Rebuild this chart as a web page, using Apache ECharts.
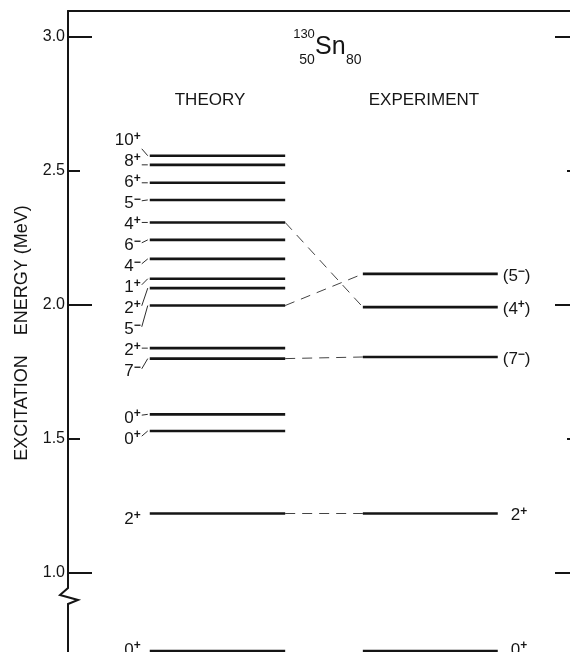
<!DOCTYPE html>
<html>
<head>
<meta charset="utf-8">
<script src="https://cdn.jsdelivr.net/npm/echarts@6/dist/echarts.min.js"></script>
<style>
  html, body { margin: 0; padding: 0; background: #fff; }
  #chart { width: 570px; height: 652px; }
</style>
</head>
<body>
<div id="chart"></div>
<script>
// 130Sn levels (MeV)
const theoryEnergy = [2.557, 2.523, 2.456, 2.392, 2.308, 2.243, 2.172, 2.098, 2.063, 1.998, 1.839, 1.800, 1.592, 1.530, 1.222, 0];
const theorySpin   = ['10', '8', '6', '5', '4', '6', '4', '1', '2', '5', '2', '7', '0', '0', '2', '0'];
const theoryParity = ['+', '+', '+', '-', '+', '-', '-', '+', '+', '-', '+', '-', '+', '+', '+', '+'];

const exptEnergy    = [2.116, 1.992, 1.806, 1.222, 0];
const exptSpin      = ['5', '4', '7', '2', '0'];
const exptParity    = ['-', '+', '-', '+', '+'];
const exptTentative = [true, true, true, false, false];

// [theory index, experiment index] joined by a dashed line
const links = [[4, 1], [9, 0], [11, 2], [14, 3]];

const tickStep = 0.5;

// layout
const INK = '#151515';
const FONT = "'Liberation Sans', Arial, sans-serif";
const PLOT_LEFT = 68, PLOT_WIDTH = 511;
const FRAME_TOP = 11, BREAK_Y = 573, PLOT_BOTTOM = 651;
const PX_PER_MEV = 268;
const TOP_E = 1.0 + (BREAK_Y - FRAME_TOP) / PX_PER_MEV;
const LOW_E = (PLOT_BOTTOM - BREAK_Y) / PX_PER_MEV;
const THEORY_X = [0.160, 0.425];
const EXPT_X = [0.577, 0.841];

const RICH = {
  v: { fontSize: 17, lineHeight: 20, fontFamily: FONT, fill: INK },
  p: { fontSize: 12, lineHeight: 8, fontFamily: FONT, fontWeight: 'bold', fill: INK, verticalAlign: 'top' }
};

function levelText(spin, parity, tentative) {
  const sign = parity === '-' ? '\u2212' : '+';
  const core = '{v|' + spin + '}{p|' + sign + '}';
  return tentative ? '{v|(}' + core + '{v|)}' : core;
}

// crowded labels are stacked with a fixed pitch, each stack centred on its levels
function spreadLabels(ys, gap) {
  let groups = ys.map((y, i) => ({ first: i, n: 1, start: y }));
  let changed = true;
  while (changed) {
    changed = false;
    for (let k = 0; k + 1 < groups.length; k++) {
      const a = groups[k], b = groups[k + 1];
      if (b.start < a.start + a.n * gap) {
        const n = a.n + b.n;
        let s = 0;
        for (let j = 0; j < n; j++) s += ys[a.first + j] - j * gap;
        groups.splice(k, 2, { first: a.first, n: n, start: s / n });
        changed = true;
        break;
      }
    }
  }
  const out = [];
  groups.forEach(g => {
    for (let j = 0; j < g.n; j++) out.push({ y: g.start + j * gap, moved: g.n > 1 });
  });
  return out;
}

function levelSeries(gridIndex, yAxisIndex, idx, energy, spin, parity, tentative, cols, side) {
  return {
    type: 'custom',
    silent: true,
    xAxisIndex: gridIndex,
    yAxisIndex: yAxisIndex,
    data: idx.map(i => [(cols[0] + cols[1]) / 2, energy[i]]),
    encode: { x: 0, y: 1 },
    renderItem(params, api) {
      const i = idx[params.dataIndex];
      const a = api.coord([cols[0], energy[i]]);
      const b = api.coord([cols[1], energy[i]]);
      const cs = params.coordSys;
      const bottom = cs.y + cs.height - 1;
      const children = [{
        type: 'line',
        shape: { x1: a[0], y1: a[1], x2: b[0], y2: b[1] },
        style: { stroke: INK, lineWidth: 2.6 }
      }];
      const text = levelText(spin[i], parity[i], tentative ? tentative[i] : false);
      if (side === 'left') {
        const wanted = idx.map(j => api.coord([cols[0], energy[j]])[1] + 6);
        const placed = spreadLabels(wanted, 21)[params.dataIndex];
        const ly = Math.min(placed.y, bottom);
        const lx = a[0] - 9;
        children.push({
          type: 'text', x: lx, y: ly,
          style: { text: text, rich: RICH, align: 'right', verticalAlign: 'middle', fill: INK }
        });
        if (placed.moved) {
          const sy = Math.max(ly - 3, Math.min(ly + 8, a[1]));
          children.push({
            type: 'line',
            shape: { x1: lx + 1, y1: sy, x2: a[0] - 2, y2: a[1] },
            style: { stroke: INK, lineWidth: 0.9 }
          });
        }
      } else {
        const lx = b[0] + 5 + (tentative && tentative[i] ? 0 : 8);
        const ly = Math.min(b[1] + 2, bottom);
        children.push({
          type: 'text', x: lx, y: ly,
          style: { text: text, rich: RICH, align: 'left', verticalAlign: 'middle', fill: INK }
        });
      }
      return { type: 'group', children: children };
    }
  };
}

function energyAxis(position, step, tickLen, showLabel, showLine) {
  return {
    type: 'value',
    gridIndex: 0,
    position: position,
    min: 1.0,
    max: TOP_E,
    interval: step,
    axisLine: { show: showLine, lineStyle: { color: INK, width: 2 } },
    axisTick: { show: true, inside: true, length: tickLen, lineStyle: { color: INK, width: 2 } },
    axisLabel: {
      show: showLabel,
      color: INK,
      fontSize: 16,
      fontFamily: FONT,
      margin: 3,
      formatter: v => (Math.abs(v / tickStep - Math.round(v / tickStep)) < 1e-6 ? v.toFixed(1) : '')
    },
    splitLine: { show: false }
  };
}

const topIdxT = theoryEnergy.map((e, i) => i).filter(i => theoryEnergy[i] >= 1);
const lowIdxT = theoryEnergy.map((e, i) => i).filter(i => theoryEnergy[i] < 1);
const topIdxE = exptEnergy.map((e, i) => i).filter(i => exptEnergy[i] >= 1);
const lowIdxE = exptEnergy.map((e, i) => i).filter(i => exptEnergy[i] < 1);

const chart = echarts.init(document.getElementById('chart'), null, { renderer: 'canvas' });

chart.setOption({
  animation: false,
  backgroundColor: '#fff',
  grid: [
    { left: PLOT_LEFT, top: FRAME_TOP, width: PLOT_WIDTH, height: BREAK_Y - FRAME_TOP, outerBoundsMode: 'none', containLabel: false },
    { left: PLOT_LEFT, top: BREAK_Y, width: PLOT_WIDTH, height: PLOT_BOTTOM - BREAK_Y, outerBoundsMode: 'none', containLabel: false }
  ],
  xAxis: [
    {
      type: 'value', gridIndex: 0, position: 'top', min: 0, max: 1,
      axisLine: { show: true, lineStyle: { color: INK, width: 2 } },
      axisTick: { show: false }, axisLabel: { show: false }, splitLine: { show: false }
    },
    { type: 'value', gridIndex: 1, min: 0, max: 1, show: false }
  ],
  yAxis: [
    energyAxis('left', tickStep, 12, true, true),
    energyAxis('left', 2 * tickStep, 24, false, false),
    energyAxis('right', tickStep, 12, false, true),
    energyAxis('right', 2 * tickStep, 24, false, false),
    { type: 'value', gridIndex: 1, min: 0, max: LOW_E, show: false }
  ],
  graphic: [
    {
      type: 'polyline',
      shape: { points: [[PLOT_LEFT, BREAK_Y], [PLOT_LEFT, 588], [PLOT_LEFT - 8, 595], [PLOT_LEFT + 10, 600], [PLOT_LEFT, 604], [PLOT_LEFT, 653]] },
      style: { stroke: INK, lineWidth: 2, fill: 'none' }
    },
    {
      type: 'text', x: 22, y: 333, rotation: Math.PI / 2,
      style: { text: 'EXCITATION    ENERGY (MeV)', fontSize: 18, fontFamily: FONT, fill: INK, align: 'center', verticalAlign: 'middle' }
    },
    { type: 'text', x: 210, y: 100, style: { text: 'THEORY', fontSize: 17, fontFamily: FONT, fill: INK, align: 'center', verticalAlign: 'middle' } },
    { type: 'text', x: 424, y: 100, style: { text: 'EXPERIMENT', fontSize: 17, fontFamily: FONT, fill: INK, align: 'center', verticalAlign: 'middle' } },
    { type: 'text', x: 304, y: 34, style: { text: '130', fontSize: 13, fontFamily: FONT, fill: INK, align: 'center', verticalAlign: 'middle' } },
    { type: 'text', x: 315, y: 47, style: { text: 'Sn', fontSize: 25, fontFamily: FONT, fill: INK, align: 'left', verticalAlign: 'middle' } },
    { type: 'text', x: 307, y: 60, style: { text: '50', fontSize: 14, fontFamily: FONT, fill: INK, align: 'center', verticalAlign: 'middle' } },
    { type: 'text', x: 346, y: 60, style: { text: '80', fontSize: 14, fontFamily: FONT, fill: INK, align: 'left', verticalAlign: 'middle' } }
  ],
  series: [
    {
      type: 'custom',
      silent: true,
      xAxisIndex: 0,
      yAxisIndex: 0,
      data: links.map(([t, e]) => [THEORY_X[1], theoryEnergy[t], EXPT_X[0], exptEnergy[e]]),
      encode: { x: [0, 2], y: [1, 3] },
      renderItem(params, api) {
        const p = api.coord([api.value(0), api.value(1)]);
        const q = api.coord([api.value(2), api.value(3)]);
        return {
          type: 'line',
          shape: { x1: p[0], y1: p[1], x2: q[0], y2: q[1] },
          style: { stroke: '#444', lineWidth: 1, lineDash: [10, 7] }
        };
      }
    },
    levelSeries(0, 0, topIdxT, theoryEnergy, theorySpin, theoryParity, null, THEORY_X, 'left'),
    levelSeries(0, 0, topIdxE, exptEnergy, exptSpin, exptParity, exptTentative, EXPT_X, 'right'),
    levelSeries(1, 4, lowIdxT, theoryEnergy, theorySpin, theoryParity, null, THEORY_X, 'left'),
    levelSeries(1, 4, lowIdxE, exptEnergy, exptSpin, exptParity, exptTentative, EXPT_X, 'right')
  ]
});
</script>
</body>
</html>
